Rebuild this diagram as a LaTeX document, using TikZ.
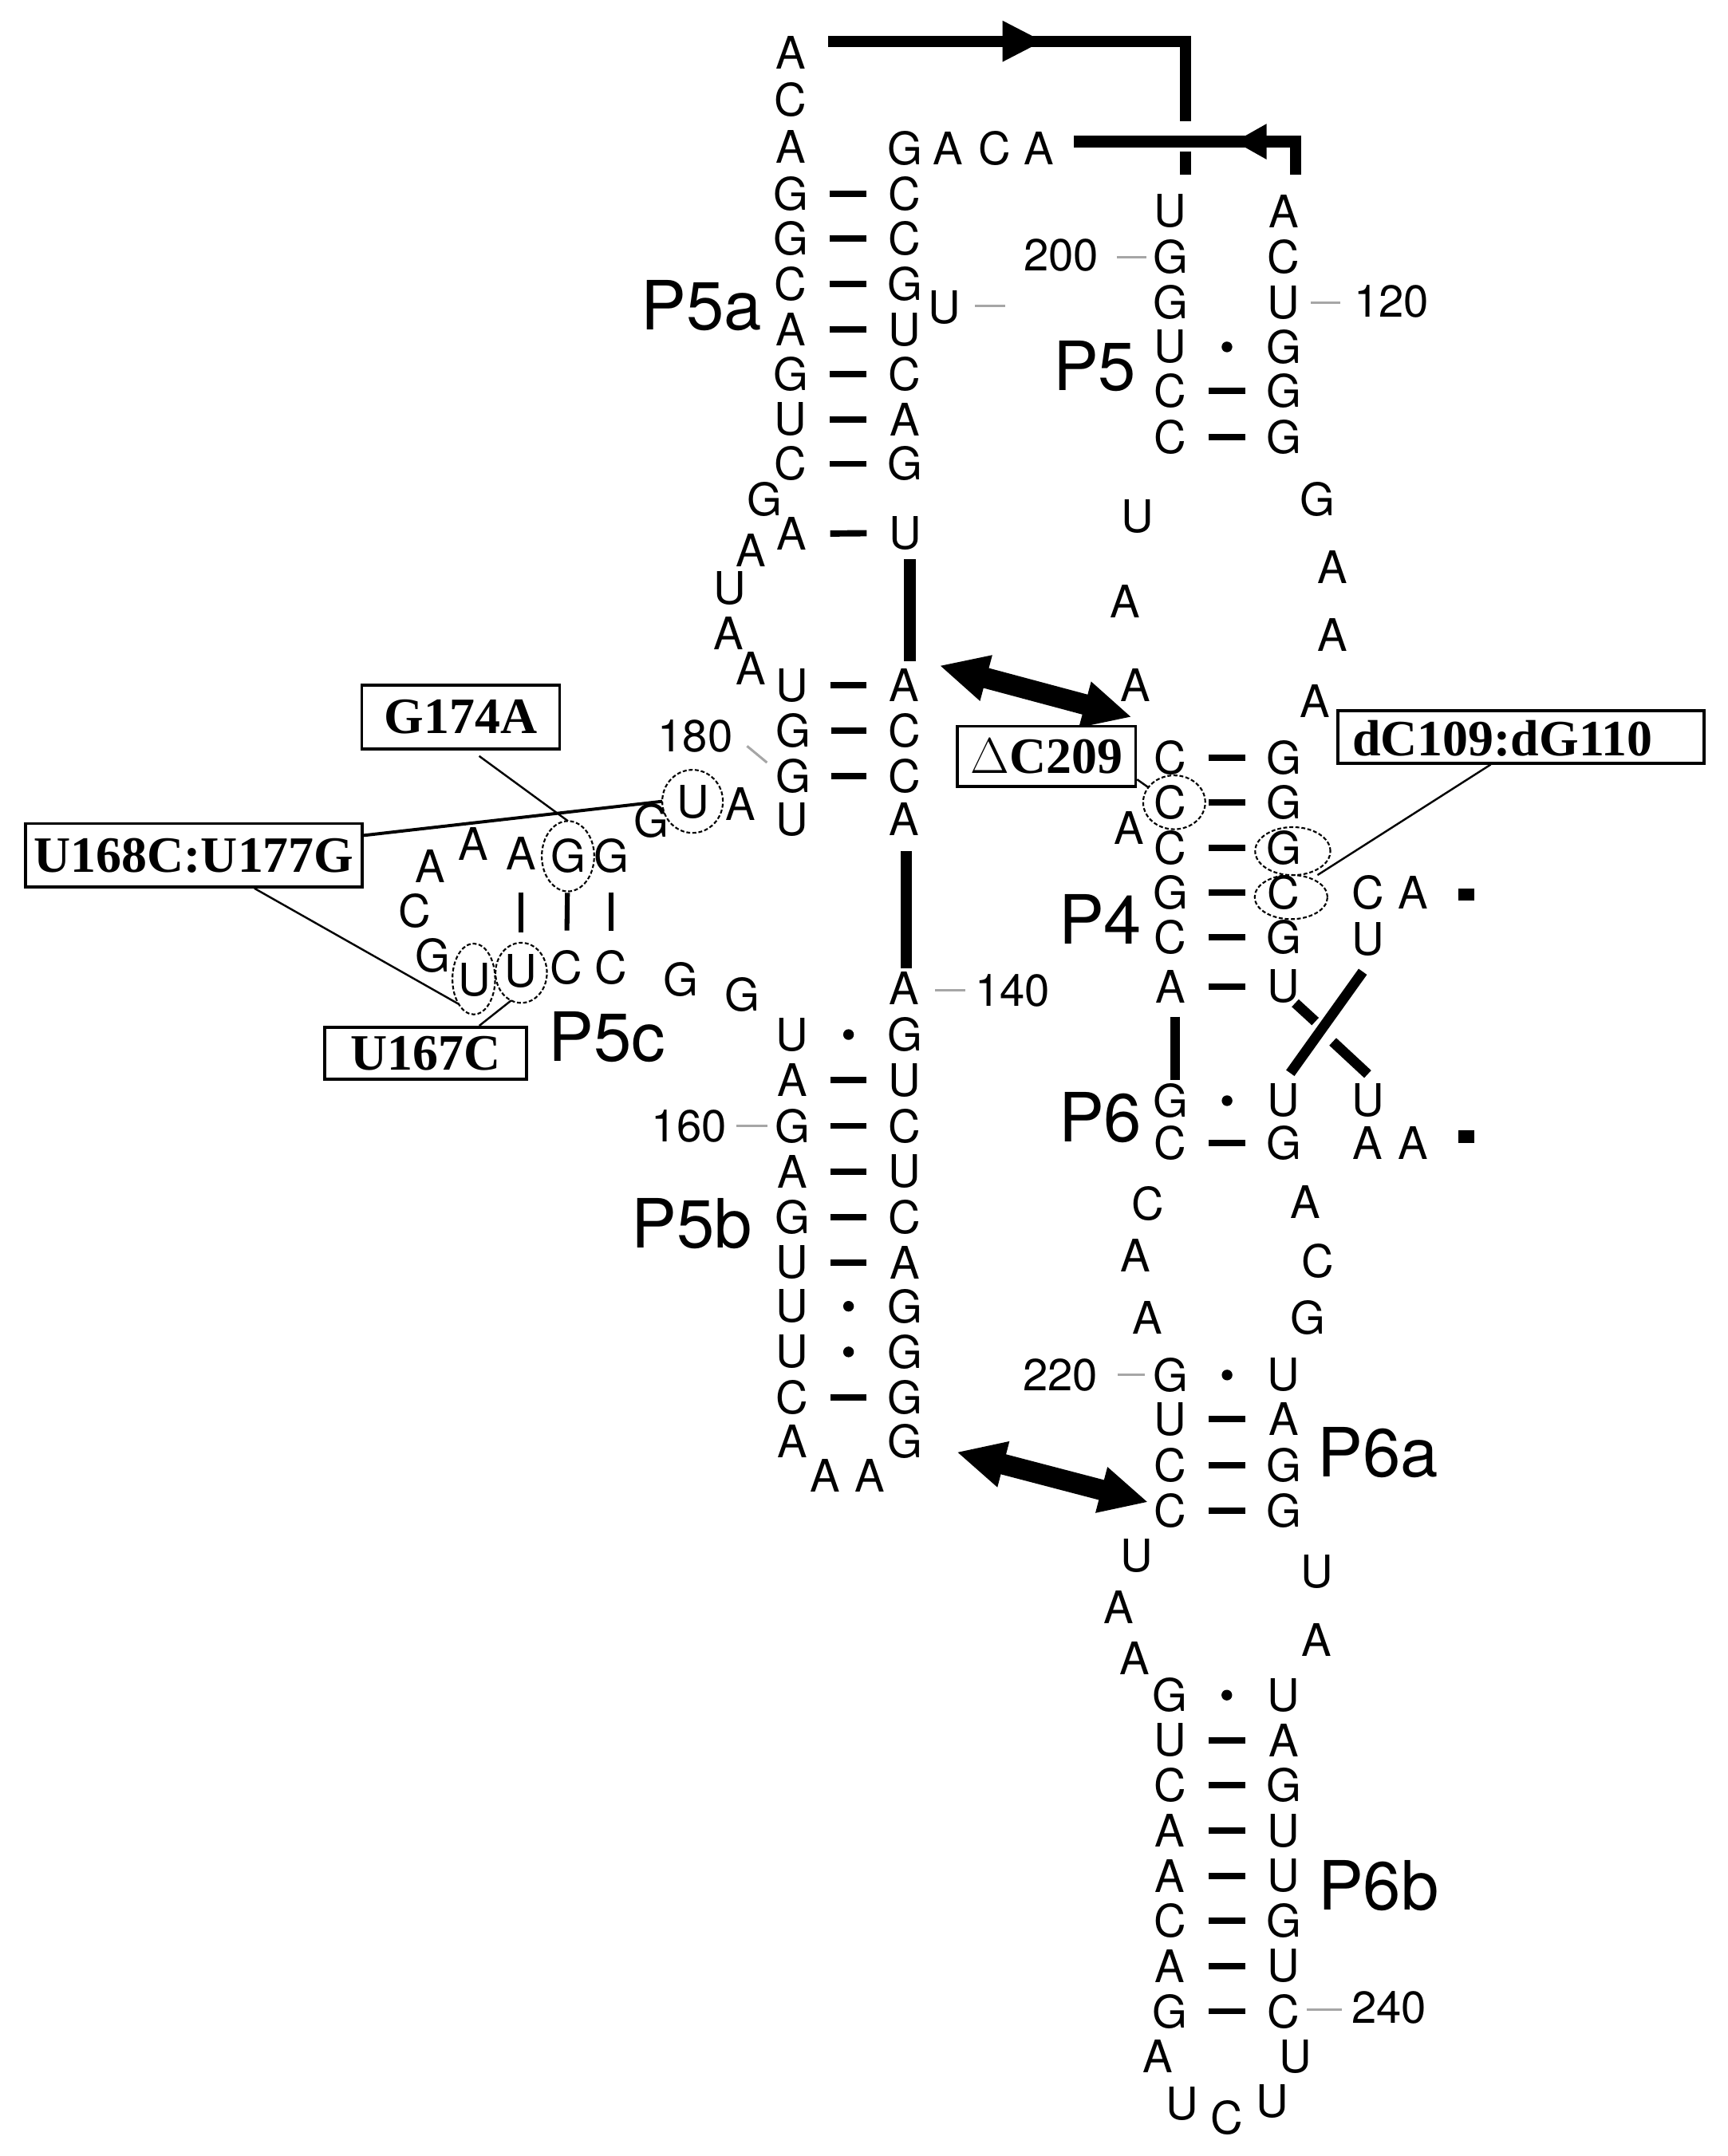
\documentclass[tikz,border=0pt]{standalone}
\usepackage{fontspec}
\setmainfont{TeX Gyre Heros}
\newfontfamily\boxfont{Liberation Serif}
\usetikzlibrary{calc,arrows.meta,shapes.geometric}
\newcommand\bpbar[2]{\draw[pairbar] ($(#1)!0.34!(#2)$) -- ($(#1)!0.66!(#2)$);}
\newcommand\bpdot[2]{\fill ($(#1)!0.5!(#2)$) circle (2.2pt);}
\begin{document}
\begin{tikzpicture}[x=0.5669pt,y=-0.5669pt,
  base/.style={inner sep=0pt,font=\fontsize{18.5}{18.5}\selectfont},
  num/.style={inner sep=0pt,font=\fontsize{18.5}{18.5}\selectfont},
  lbl/.style={inner sep=0pt,font=\fontsize{28}{28}\selectfont},
  pairbar/.style={line width=2.6pt},
  vbar/.style={line width=2pt},
  thick line/.style={line width=4.7pt},
  tickln/.style={line width=1pt,draw=black!35},
  circ/.style={draw,ellipse,inner sep=0pt,outer sep=0pt,line width=0.7pt,dash pattern=on 1.6pt off 0.9pt},
  mbox/.style={draw,line width=1.2pt,inner sep=0pt,font=\boxfont\bfseries\fontsize{21}{21}\selectfont},
  lead/.style={line width=0.8pt},
  dblarrow/.style={line width=8.5pt,{Triangle[length=20pt,width=18pt]}-{Triangle[length=20pt,width=18pt]}}
]
\useasboundingbox (0,0) rectangle (1256,1568);

% ---------- bases ----------
\foreach \n/\x/\y/\t in {
 a1/575/38.5/A, a2/575/72.3/C, a3/575/106.7/A, a4/575/141/G, a5/575/173.7/G, a6/575/206.5/C, a7/575/239.7/A, a8/575/272/G, a9/575/305/U, a10/575/337.3/C,
 b1/658/107.8/G, b2/689.4/107.8/A, b3/723/107.8/C, b4/755.6/107.8/A, b5/658/141/C, b6/658/173.7/C, b7/658/206.5/G, b8/658/239.7/U, b9/658/272/C, b10/658/305/A, b11/658/337.3/G, bu/687/223.7/U,
 c1/555.8/363.2/G, c2/575.5/388.3/A, c3/658.3/387.5/U, c4/546/400/A, c5/530.7/428/U, c6/529.7/460.6/A, c7/546/486/A,
 d1/576/498.5/U, d2/657.5/498.5/A, d3/577/531.4/G, d4/657.5/531.4/C, d5/577/564.3/G, d6/657.5/564.3/C, d7/576/596/U, d8/657.5/596/A,
 e1/538.4/584.6/A, e2/504/583/U, e3/473.6/597.1/G, e4/444.4/622.7/G, e5/413/622.7/G, e6/378.7/620.7/A, e7/343.9/613.5/A, e8/312.6/629.9/A, e9/301.5/662.5/C, e10/314.9/695.2/G, e11/344.8/712.6/U, e12/378.7/706.4/U, e13/411.8/703.4/C, e14/444.4/703.4/C, e15/494.9/712.5/G, e16/539.6/723.5/G,
 f1/657.5/719/A,
 g1l/576/752.4/U, g1r/658/752.4/G, g2l/576/785.6/A, g2r/658/785.6/U, g3l/576/818.8/G, g3r/658/818.8/C, g4l/576/851.9/A, g4r/658/851.9/U, g5l/576/885/G, g5r/658/885/C,
 g6l/576/918.2/U, g6r/658/918.2/A, g7l/576/950/U, g7r/658/950/G, g8l/576/983.2/U, g8r/658/983.2/G, g9l/576/1016.3/C, g9r/658/1016.3/G, g10l/576/1048.2/A, g10r/658/1048.2/G,
 h1/600/1073.4/A, h2/632.7/1073.4/A,
 p1l/851/153.7/U, p1r/933.3/153.7/A, p2l/851/187/G, p2r/933.3/187/C, p3l/851/220/G, p3r/933.3/220/U, p4l/851/252.3/U, p4r/933.3/252.3/G, p5l/851/284.5/C, p5r/933.3/284.5/G, p6l/851/317.7/C, p6r/933.3/317.7/G,
 q1/827.2/375.6/U, q2/818.1/437.6/A, q3/825.4/498.5/A, r1/958.2/363/G, r2/969.1/412.4/A, r3/969.1/461.7/A, r4/956.4/510/A,
 s1l/851/551.3/C, s1r/933.5/551.3/G, s2l/851/583.5/C, s2r/933.5/583.5/G, sA/821/601.9/A, s3l/851/616.8/C, s3r/933.5/616.8/G, s4l/851/649/G, s4r/933.5/649/C, s5l/851/681.5/C, s5r/933.5/681.5/G, s6l/851/717.4/A, s6r/933.5/717.4/U,
 t1/994.5/649/C, t2/1027.3/649/A, t3/994.5/683/U,
 u1l/851/800.5/G, u1r/933.5/800.5/U, u2l/851/831.2/C, u2r/933.5/831.2/G, t4/994.5/800.5/U, t5/994.5/831.2/A, t6/1027.3/831.2/A,
 v1/834.5/875.5/C, v2/825.4/913/A, v3/834.5/958.5/A, w1/949.1/874.1/A, w2/958.2/917/C, w3/950.9/958.4/G,
 x1l/851/1000/G, x1r/933.5/1000/U, x2l/851/1032/U, x2r/933.5/1032/A, x3l/851/1065.6/C, x3r/933.5/1065.6/G, x4l/851/1098.5/C, x4r/933.5/1098.5/G,
 y1/826.4/1131.3/U, y2/813.7/1168.6/A, y3/825.2/1206/A, z1/957.7/1143.2/U, z2/957.2/1192.5/A,
 k1l/850.6/1232.8/G, k1r/933.5/1232.8/U, k2l/850.6/1265.7/U, k2r/933.5/1265.7/A, k3l/850.6/1298.5/C, k3r/933.5/1298.5/G, k4l/850.6/1331.4/A, k4r/933.5/1331.4/U,
 k5l/850.6/1364.2/A, k5r/933.5/1364.2/U, k6l/850.6/1397/C, k6r/933.5/1397/G, k7l/850.6/1429.9/A, k7r/933.5/1429.9/U, k8l/850.6/1462.7/G, k8r/933.5/1462.7/C,
 m1/841.7/1495.7/A, m2/859.5/1530/U, m3/891.9/1540.4/C, m4/925/1528.4/U, m5/941.9/1495.7/U}
 {\node[base] (\n) at (\x,\y) {\t};}

% ---------- base pairs ----------
\bpbar{a4}{b5}\bpbar{a5}{b6}\bpbar{a6}{b7}\bpbar{a7}{b8}\bpbar{a8}{b9}\bpbar{a9}{b10}\bpbar{a10}{b11}\bpbar{c2}{c3}
\bpbar{d1}{d2}\bpbar{d3}{d4}\bpbar{d5}{d6}
\bpdot{g1l}{g1r}\bpbar{g2l}{g2r}\bpbar{g3l}{g3r}\bpbar{g4l}{g4r}\bpbar{g5l}{g5r}\bpbar{g6l}{g6r}\bpdot{g7l}{g7r}\bpdot{g8l}{g8r}\bpbar{g9l}{g9r}
\bpdot{p4l}{p4r}\bpbar{p5l}{p5r}\bpbar{p6l}{p6r}
\bpbar{s1l}{s1r}\bpbar{s2l}{s2r}\bpbar{s3l}{s3r}\bpbar{s4l}{s4r}\bpbar{s5l}{s5r}\bpbar{s6l}{s6r}
\bpdot{u1l}{u1r}\bpbar{u2l}{u2r}
\bpdot{x1l}{x1r}\bpbar{x2l}{x2r}\bpbar{x3l}{x3r}\bpbar{x4l}{x4r}
\bpdot{k1l}{k1r}\bpbar{k2l}{k2r}\bpbar{k3l}{k3r}\bpbar{k4l}{k4r}\bpbar{k5l}{k5r}\bpbar{k6l}{k6r}\bpbar{k7l}{k7r}\bpbar{k8l}{k8r}
% P5c vertical pairs
\draw[vbar] ($(e6)!0.33!(e12)$) -- ($(e6)!0.67!(e12)$);
\draw[vbar] ($(e5)!0.33!(e13)$) -- ($(e5)!0.67!(e13)$);
\draw[vbar] ($(e4)!0.33!(e14)$) -- ($(e4)!0.67!(e14)$);

% ---------- stacking lines ----------
\draw[line width=4.9pt] (661.8,406.7) -- (661.8,481);
\draw[line width=4.9pt] (659,619) -- (659,704);
\draw[line width=4pt] (854.6,739.4) -- (854.6,785.7);
% crossing in P6
\draw[line width=4.2pt] (990.9,706.7) -- (938.2,780.4);
\draw[line width=4.2pt] (941.8,729.5) -- (956.4,742.9);
\draw[line width=4.2pt] (969.1,757.6) -- (994.5,781.2);
\fill (1060.5,646.5) rectangle (1072,655);
\fill (1060.5,822) rectangle (1072,831);

% ---------- top connectors ----------
\coordinate (tA) at (602,30);
\coordinate (tB) at (862,30);
\coordinate (tC) at (862,88);
\draw[thick line] (tA) -- (tB) -- (tC);
\draw[thick line] (862,110) -- (862,127);
\fill (729,15) -- (758,30) -- (729,45) -- cycle;
\coordinate (uA) at (781,103);
\coordinate (uB) at (942,103);
\coordinate (uC) at (942,127);
\draw[thick line] (uA) -- (uB) -- (uC);
\fill (921,90) -- (898,103) -- (921,116) -- cycle;

% ---------- double arrows ----------
\coordinate (da1) at (683,484);
\coordinate (da2) at (823,521.5);
\draw[dblarrow] (da1) -- (da2);
\coordinate (db1) at (695.5,1056);
\coordinate (db2) at (835,1092.5);
\draw[dblarrow] (db1) -- (db2);

% ---------- numbers and ticks ----------
\node[num] (n200) at (771.5,185.4) {200};
\node[num] (n120) at (1011.7,219) {120};
\node[num] (n180) at (505.5,535.3) {180};
\node[num] (n140) at (736.3,720.2) {140};
\node[num] (n160) at (501,818.8) {160};
\node[num] (n220) at (770.9,1000) {220};
\node[num] (n240) at (1009.9,1459.8) {240};
\draw[tickln] ($(p2l)+(-39,0)$) -- ($(p2l)+(-17.5,0)$);
\draw[tickln] ($(p3r)+(19.7,0)$) -- ($(p3r)+(41.3,0)$);
\draw[tickln] ($(d5)+(-33.8,-21.7)$) -- ($(d5)+(-19.3,-9.7)$);
\draw[tickln] ($(f1)+(22.5,1)$) -- ($(f1)+(44.2,1)$);
\draw[tickln] ($(g3l)+(-40.3,0)$) -- ($(g3l)+(-18.2,0)$);
\draw[tickln] ($(x1l)+(-38.3,0)$) -- ($(x1l)+(-18.3,0)$);
\draw[tickln] ($(k8r)+(16.5,-1)$) -- ($(k8r)+(42,-1)$);
\draw[tickln] ($(bu)+(22,-1.5)$) -- ($(bu)+(44,-1.5)$);

% ---------- helix labels ----------
\node[lbl] (P5a) at (510,222) {P5a};
\node[lbl] (P5) at (796,266.6) {P5};
\node[lbl] (P4) at (800,668.5) {P4};
\node[lbl] (P6) at (800,812.5) {P6};
\node[lbl] (P5c) at (441.3,754.4) {P5c};
\node[lbl] (P5b) at (503,890) {P5b};
\node[lbl] (P6a) at (1001.8,1056.3) {P6a};
\node[lbl] (P6b) at (1002.3,1371.6) {P6b};

% ---------- circled nucleotides ----------
\node[circ,minimum width=25pt,minimum height=26pt] (cU177) at (503.6,582.8) {};
\node[circ,minimum width=21.6pt,minimum height=29pt] (cG174) at (413,622.7) {};
\node[circ,minimum width=17.6pt,minimum height=29.2pt] (cU168) at (344.5,712) {};
\node[circ,minimum width=21.2pt,minimum height=24.8pt] (cU167) at (379,707.5) {};
\node[circ,minimum width=25.6pt,minimum height=22.2pt] (cC209) at (853.8,583.5) {};
\node[circ,minimum width=31pt,minimum height=19.8pt] (cG110) at (940,619) {};
\node[circ,minimum width=30pt,minimum height=18.2pt] (cC109) at (938.8,652.4) {};

% ---------- mutation boxes ----------
\node[mbox,minimum width=81.6pt,minimum height=26.4pt] (bG174A) at (335,521.5) {G174A};
\node[mbox,minimum width=138.9pt,minimum height=26.1pt] (bU168C) at (141,622) {U168C:U177G};
\node[mbox,minimum width=83.3pt,minimum height=21.5pt] (bU167C) at (309.5,766) {U167C};
\node[mbox,minimum width=73.4pt,minimum height=24.7pt] (bC209) at (761,550) {$\Delta$C209};
\node[mbox,minimum width=150.8pt,minimum height=21.5pt] (bC109) at (1106,536) {};
\node[inner sep=0pt,anchor=west,font=\boxfont\bfseries\fontsize{21}{21}\selectfont] (tC109) at (983,537) {dC109:dG110};

% ---------- leader lines ----------
\draw[lead] ($(bG174A.south)+(13.4,4)$) -- (cG174.north);
\draw[line width=1.3pt] ($(bU168C.north east)!0.2!(bU168C.south east)$) -- (cU177.west);
\draw[lead] ($(bU168C.south)+(44,0)$) -- (cU168.south west);
\draw[lead] ($(bU167C.north)+(39,0)$) -- (cU167.250);
\draw[lead] ($(bC209.south east)+(0,-6)$) -- (cC209.150);
\coordinate (jC109) at (958,636.4);
\draw[lead] ($(bC109.south west)+(112,0)$) -- (jC109);
\end{tikzpicture}
\end{document}
